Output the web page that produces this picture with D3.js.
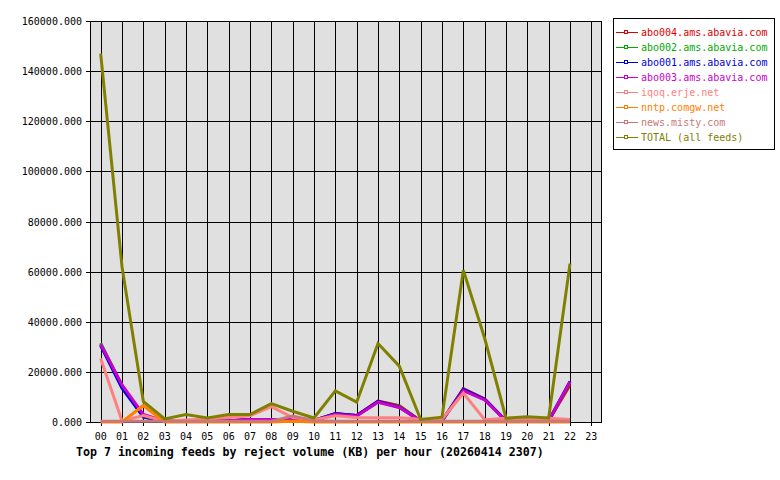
<!DOCTYPE html>
<html><head><meta charset="utf-8">
<script src="https://cdn.jsdelivr.net/npm/d3@7"></script>
<style>body{margin:0;background:#fff}svg{display:block}</style>
</head><body><svg id="c" width="780" height="480"></svg>
<script>
const hours = ["00","01","02","03","04","05","06","07","08","09","10","11","12","13","14","15","16","17","18","19","20","21","22","23"];
const yTicks = [0,20000,40000,60000,80000,100000,120000,140000,160000];
const seriesNames = ["abo004.ams.abavia.com","abo002.ams.abavia.com","abo001.ams.abavia.com","abo003.ams.abavia.com","iqoq.erje.net","nntp.comgw.net","news.misty.com","TOTAL (all feeds)"];
const seriesColors = ["#dd0000","#00aa00","#0000dd","#cc00cc","#ff8080","#ff8000","#c87878","#808000"];
const abo004 = [31000,14500,2000,300,300,300,500,900,1000,900,600,3300,2600,8300,6500,400,500,13300,9200,500,300,500,14800];
const abo002 = [31500,14500,2000,300,300,300,500,900,1000,900,600,3300,2500,8000,6200,400,500,12900,9000,500,300,500,15800];
const abo001 = [30500,13500,2000,300,300,300,500,900,1000,900,600,3400,2600,8200,5900,400,500,13000,9100,500,300,500,16200];
const abo003 = [31000,14800,3000,300,300,300,500,1000,1000,900,600,3100,2400,7900,5800,400,500,12500,8800,500,300,500,16000];
const iqoq = [25300,400,2600,300,800,1200,1800,2500,6100,1800,800,2500,1800,1700,1700,1100,1100,11500,900,1500,1200,1500,1000];
const nntp = [0,0,6600,0,0,0,0,0,0,300,0,0,0,0,0,0,0,0,0,0,0,0,0];
const misty = [300,300,300,300,300,300,300,300,300,2400,500,300,300,300,300,300,300,300,300,300,300,300,300];
const total = [147000,62000,8200,1200,3000,1600,3000,3000,7300,4300,1600,12400,7900,31300,22300,1000,1900,60600,33400,1500,2100,1600,63200];
const seriesValues = [abo004,abo002,abo001,abo003,iqoq,nntp,misty,total];

const svg = d3.select("#c");
const L=90,R=602,T=21,B=422;
const x = d3.scaleLinear().domain([-0.5,23.5]).range([L,R]);
const y = d3.scaleLinear().domain([0,160000]).range([B,T]);
const font = "'DejaVu Sans Mono', monospace";

svg.append("rect").attr("x",L).attr("y",T).attr("width",R-L).attr("height",B-T).attr("fill","#e0e0e0");
// grid
svg.append("g").selectAll("line").data(yTicks).join("line")
  .attr("x1",L-4).attr("x2",R).attr("y1",d=>Math.round(y(d))+0.5).attr("y2",d=>Math.round(y(d))+0.5)
  .attr("stroke","#000").attr("stroke-width",1);
svg.append("g").selectAll("line").data(hours).join("line")
  .attr("x1",(d,i)=>Math.round(x(i))+0.5).attr("x2",(d,i)=>Math.round(x(i))+0.5)
  .attr("y1",T).attr("y2",B+4).attr("stroke","#000").attr("stroke-width",1);
svg.append("rect").attr("x",L+0.5).attr("y",T+0.5).attr("width",R-L-1).attr("height",B-T)
  .attr("fill","none").attr("stroke","#000").attr("stroke-width",1);

// y labels
svg.append("g").selectAll("text").data(yTicks).join("text")
  .attr("x",L-8).attr("y",d=>y(d)+4).attr("text-anchor","end")
  .attr("font-family",font).attr("font-size","10px").attr("fill","#000")
  .text(d=>d3.format(".3f")(d));
// x labels
svg.append("g").selectAll("text").data(hours).join("text")
  .attr("x",(d,i)=>x(i)).attr("y",B+18).attr("text-anchor","middle")
  .attr("font-family",font).attr("font-size","10px").attr("fill","#000").text(d=>d);

// lines
const line = d3.line().x((d,i)=>x(i)).y(d=>y(d));
seriesValues.forEach((vals,k)=>{
  svg.append("path").datum(vals).attr("d",line).attr("fill","none")
    .attr("stroke",seriesColors[k]).attr("stroke-width",3).attr("stroke-linejoin","miter");
});

// title
svg.append("text").attr("x",76).attr("y",456).attr("font-family",font).attr("font-size","11.6px")
  .attr("font-weight","bold").attr("fill","#000")
  .text("Top 7 incoming feeds by reject volume (KB) per hour (20260414 2307)");

// legend
const lg = svg.append("g");
lg.append("rect").attr("x",613.5).attr("y",18.5).attr("width",161).attr("height",131)
  .attr("fill","#fff").attr("stroke","#000");
seriesNames.forEach((n,k)=>{
  const yy = 32 + k*15;
  lg.append("line").attr("x1",616).attr("x2",638).attr("y1",yy+0.5).attr("y2",yy+0.5)
    .attr("stroke",seriesColors[k]).attr("stroke-width",1);
  lg.append("rect").attr("x",624.5).attr("y",yy-1.5).attr("width",3).attr("height",3)
    .attr("fill","#fff").attr("stroke",seriesColors[k]).attr("stroke-width",1);
  lg.append("text").attr("x",641).attr("y",yy+4).attr("font-family",font).attr("font-size","10px")
    .attr("fill",seriesColors[k]).text(n);
});
</script></body></html>
